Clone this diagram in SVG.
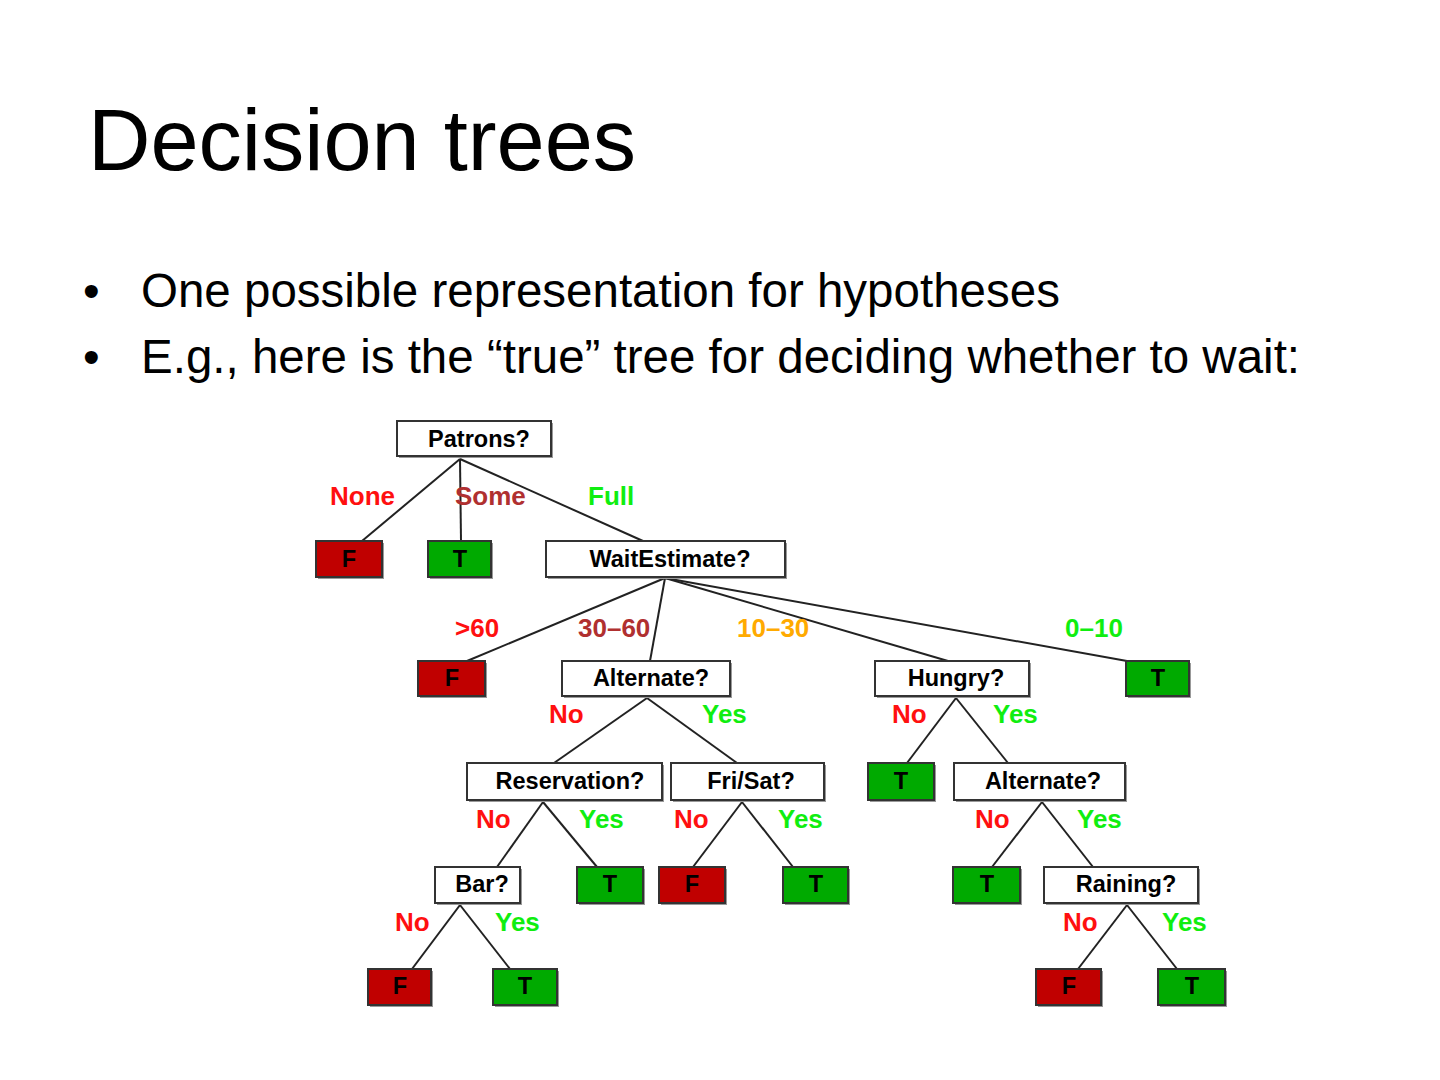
<svg xmlns="http://www.w3.org/2000/svg" width="1440" height="1080" viewBox="0 0 1440 1080">
<style>
.title{font-family:"Liberation Sans",Arial,sans-serif;font-size:86.5px;fill:#000}
.bul{font-family:"Liberation Sans",Arial,sans-serif;font-size:47.5px;fill:#000}
.nt{font-family:"Liberation Sans",Arial,sans-serif;font-size:23.5px;font-weight:bold;fill:#000;text-anchor:middle}
.lb{font-family:"Liberation Sans",Arial,sans-serif;font-size:26px;font-weight:bold}
.box{fill:#fff;stroke:#333;stroke-width:2}
.fb{fill:#c00000;stroke:#333;stroke-width:2}
.tb{fill:#00aa00;stroke:#333;stroke-width:2}
.sh{fill:#999}
.e{stroke:#222;stroke-width:2;fill:none}
.red{fill:#ff1010}.dred{fill:#b03030}.grn{fill:#10ee10}.org{fill:#ffaa00}
</style>
<rect width="1440" height="1080" fill="#fff"/>
<text class="title" x="88" y="170">Decision trees</text>
<text class="bul" x="83" y="307">•</text>
<text class="bul" x="141" y="307">One possible representation for hypotheses</text>
<text class="bul" x="83" y="373">•</text>
<text class="bul" x="141" y="373">E.g., here is the “true” tree for deciding whether to wait:</text>

<g id="connectors">
<line class="e" x1="460" y1="459" x2="362" y2="541"/>
<line class="e" x1="460" y1="459" x2="461" y2="541"/>
<line class="e" x1="460" y1="459" x2="643" y2="541"/>
<line class="e" x1="665" y1="578" x2="467" y2="661"/>
<line class="e" x1="665" y1="578" x2="650" y2="661"/>
<line class="e" x1="665" y1="578" x2="948" y2="661"/>
<line class="e" x1="665" y1="578" x2="1127" y2="661"/>
<line class="e" x1="647" y1="698" x2="554" y2="763"/>
<line class="e" x1="647" y1="698" x2="737" y2="763"/>
<line class="e" x1="956" y1="698" x2="907" y2="763"/>
<line class="e" x1="956" y1="698" x2="1008" y2="763"/>
<line class="e" x1="543" y1="802" x2="497" y2="867"/>
<line class="e" x1="543" y1="802" x2="597" y2="867"/>
<line class="e" x1="742" y1="802" x2="693" y2="867"/>
<line class="e" x1="742" y1="802" x2="793" y2="867"/>
<line class="e" x1="1042" y1="802" x2="992" y2="867"/>
<line class="e" x1="1042" y1="802" x2="1093" y2="867"/>
<line class="e" x1="460" y1="905" x2="412" y2="969"/>
<line class="e" x1="460" y1="905" x2="510" y2="969"/>
<line class="e" x1="1127" y1="905" x2="1078" y2="969"/>
<line class="e" x1="1127" y1="905" x2="1177" y2="969"/>
</g>

<g id="labels">
<text class="lb red" x="330" y="505">None</text>
<text class="lb dred" x="455" y="505">Some</text>
<text class="lb grn" x="588" y="505">Full</text>
<text class="lb red" x="455" y="637">&gt;60</text>
<text class="lb dred" x="578" y="637">30–60</text>
<text class="lb org" x="737" y="637">10–30</text>
<text class="lb grn" x="1065" y="637">0–10</text>
<text class="lb red" x="549" y="723">No</text>
<text class="lb grn" x="702" y="723">Yes</text>
<text class="lb red" x="892" y="723">No</text>
<text class="lb grn" x="993" y="723">Yes</text>
<text class="lb red" x="476" y="828">No</text>
<text class="lb grn" x="579" y="828">Yes</text>
<text class="lb red" x="674" y="828">No</text>
<text class="lb grn" x="778" y="828">Yes</text>
<text class="lb red" x="975" y="828">No</text>
<text class="lb grn" x="1077" y="828">Yes</text>
<text class="lb red" x="395" y="931">No</text>
<text class="lb grn" x="495" y="931">Yes</text>
<text class="lb red" x="1063" y="931">No</text>
<text class="lb grn" x="1162" y="931">Yes</text>
</g>

<g id="patrons"><rect class="sh" x="399" y="423" width="154" height="35"/><rect class="box" x="397" y="421" width="154" height="35"/><text class="nt" x="479" y="447">Patrons?</text></g>
<g id="leaf-none"><rect class="sh" x="318" y="543" width="66" height="36"/><rect class="fb" x="316" y="541" width="66" height="36"/><text class="nt" x="349" y="567">F</text></g>
<g id="leaf-some"><rect class="sh" x="430" y="543" width="63" height="36"/><rect class="tb" x="428" y="541" width="63" height="36"/><text class="nt" x="460" y="567">T</text></g>
<g id="waitestimate"><rect class="sh" x="548" y="543" width="239" height="36"/><rect class="box" x="546" y="541" width="239" height="36"/><text class="nt" x="670" y="567">WaitEstimate?</text></g>
<g id="leaf-gt60"><rect class="sh" x="420" y="663" width="67" height="35"/><rect class="fb" x="418" y="661" width="67" height="35"/><text class="nt" x="452" y="686">F</text></g>
<g id="alternate1"><rect class="sh" x="564" y="663" width="168" height="35"/><rect class="box" x="562" y="661" width="168" height="35"/><text class="nt" x="651" y="686">Alternate?</text></g>
<g id="hungry"><rect class="sh" x="877" y="663" width="154" height="35"/><rect class="box" x="875" y="661" width="154" height="35"/><text class="nt" x="956" y="686">Hungry?</text></g>
<g id="leaf-0-10"><rect class="sh" x="1128" y="663" width="63" height="35"/><rect class="tb" x="1126" y="661" width="63" height="35"/><text class="nt" x="1158" y="686">T</text></g>
<g id="reservation"><rect class="sh" x="469" y="765" width="195" height="37"/><rect class="box" x="467" y="763" width="195" height="37"/><text class="nt" x="570" y="789">Reservation?</text></g>
<g id="frisat"><rect class="sh" x="673" y="765" width="153" height="37"/><rect class="box" x="671" y="763" width="153" height="37"/><text class="nt" x="751" y="789">Fri/Sat?</text></g>
<g id="leaf-hungry-no"><rect class="sh" x="870" y="765" width="66" height="37"/><rect class="tb" x="868" y="763" width="66" height="37"/><text class="nt" x="901" y="789">T</text></g>
<g id="alternate2"><rect class="sh" x="956" y="765" width="171" height="37"/><rect class="box" x="954" y="763" width="171" height="37"/><text class="nt" x="1043" y="789">Alternate?</text></g>
<g id="bar"><rect class="sh" x="437" y="869" width="85" height="36"/><rect class="box" x="435" y="867" width="85" height="36"/><text class="nt" x="482" y="892">Bar?</text></g>
<g id="leaf-res-yes"><rect class="sh" x="579" y="869" width="66" height="36"/><rect class="tb" x="577" y="867" width="66" height="36"/><text class="nt" x="610" y="892">T</text></g>
<g id="leaf-fri-no"><rect class="sh" x="661" y="869" width="66" height="36"/><rect class="fb" x="659" y="867" width="66" height="36"/><text class="nt" x="692" y="892">F</text></g>
<g id="leaf-fri-yes"><rect class="sh" x="785" y="869" width="65" height="36"/><rect class="tb" x="783" y="867" width="65" height="36"/><text class="nt" x="816" y="892">T</text></g>
<g id="leaf-alt2-no"><rect class="sh" x="955" y="869" width="67" height="36"/><rect class="tb" x="953" y="867" width="67" height="36"/><text class="nt" x="987" y="892">T</text></g>
<g id="raining"><rect class="sh" x="1046" y="869" width="154" height="36"/><rect class="box" x="1044" y="867" width="154" height="36"/><text class="nt" x="1126" y="892">Raining?</text></g>
<g id="leaf-bar-no"><rect class="sh" x="370" y="971" width="63" height="36"/><rect class="fb" x="368" y="969" width="63" height="36"/><text class="nt" x="400" y="994">F</text></g>
<g id="leaf-bar-yes"><rect class="sh" x="495" y="971" width="64" height="36"/><rect class="tb" x="493" y="969" width="64" height="36"/><text class="nt" x="525" y="994">T</text></g>
<g id="leaf-rain-no"><rect class="sh" x="1038" y="971" width="65" height="36"/><rect class="fb" x="1036" y="969" width="65" height="36"/><text class="nt" x="1069" y="994">F</text></g>
<g id="leaf-rain-yes"><rect class="sh" x="1160" y="971" width="67" height="36"/><rect class="tb" x="1158" y="969" width="67" height="36"/><text class="nt" x="1192" y="994">T</text></g>
</svg>
